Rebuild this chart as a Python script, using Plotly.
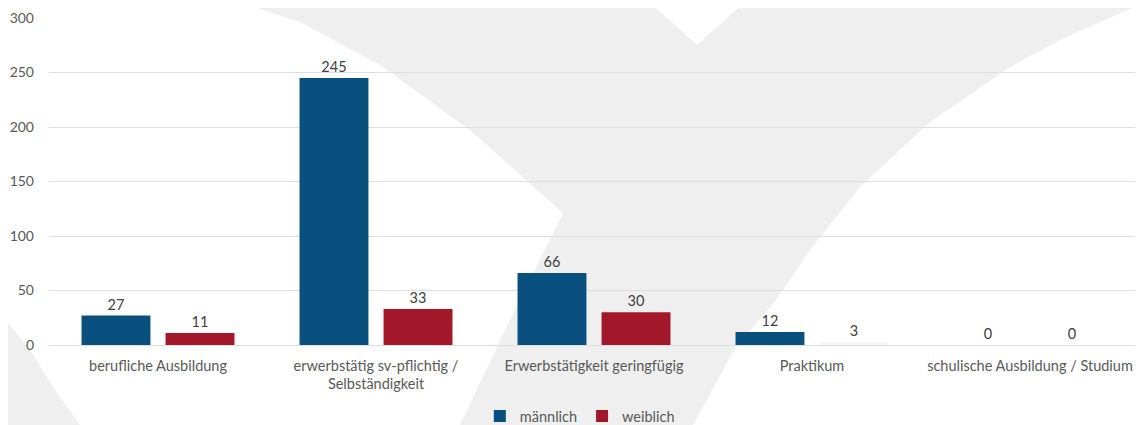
import plotly.graph_objects as go

categories = [
    "berufliche Ausbildung",
    "erwerbstätig sv-pflichtig /<br>Selbständigkeit",
    "Erwerbstätigkeit geringfügig",
    "Praktikum",
    "schulische Ausbildung / Studium",
]
maennlich = [27, 245, 66, 12, 0]
weiblich = [11, 33, 30, 3, 0]
y_ticks = [0, 50, 100, 150, 200, 250, 300]

# page body has an 8px margin, so the figure is drawn 8px smaller
OFF = 8
W, H = 1143 - OFF, 425 - OFF
ML, MR, MT, MB = 49 - OFF, 4, 18 - OFF, 80
PW, PH = W - ML - MR, H - MT - MB

def p(px, py):
    # px, py: pixel positions in the screenshot
    fx, fy = px - OFF, py - OFF
    return f"{(fx - ML) / PW:.5f},{(H - MB - fy) / PH:.5f}"

def path(points):
    return "M " + " L ".join(p(x, y) for x, y in points) + " Z"

wm1 = [(232, 0), (647, 0), (697, 45), (747, 0), (1143, 0), (1143, 3),
       (1060, 40), (1010, 67), (930, 122), (860, 187), (810, 250), (776, 300),
       (734, 350), (693, 425), (460, 425), (510, 320), (563, 213),
       (470, 130), (380, 65), (300, 22)]
wm2 = [(0, 313), (30, 350), (55, 390), (80, 425), (0, 425)]

blue = "#09507f"
red = "#a2182a"
red_colors = [red, red, red, "#f5f5f5", red]

font_family = "Lato, Carlito, Calibri, sans-serif"

fig = go.Figure()
fig.add_trace(go.Bar(
    name="männlich", x=categories, y=maennlich,
    marker=dict(color=blue, line=dict(width=0)),
    text=maennlich, textposition="outside",
    textfont=dict(color="#404040", size=14.5, family=font_family),
    cliponaxis=False,
))
fig.add_trace(go.Bar(
    name="weiblich", x=categories, y=weiblich,
    marker=dict(color=red_colors, line=dict(width=0)),
    text=weiblich, textposition="outside",
    textfont=dict(color="#404040", size=14.5, family=font_family),
    cliponaxis=False,
))

fig.update_layout(
    width=W, height=H,
    margin=dict(l=ML, r=MR, t=MT, b=MB, pad=0, autoexpand=False),
    paper_bgcolor="white",
    plot_bgcolor="rgba(0,0,0,0)",
    font=dict(family=font_family, size=14.5, color="#595959"),
    barmode="group",
    bargap=0.229,
    bargroupgap=0.18,
    showlegend=True,
    legend=dict(
        orientation="h", x=0.487, xanchor="center", y=-0.217, yanchor="middle",
        font=dict(size=14.5, color="#595959", family=font_family),
        itemwidth=30, traceorder="normal", bgcolor="rgba(0,0,0,0)",
    ),
    shapes=[
        dict(type="path", xref="paper", yref="paper", path=path(wm1),
             fillcolor="#efefef", line=dict(width=0), layer="below"),
        dict(type="path", xref="paper", yref="paper", path=path(wm2),
             fillcolor="#efefef", line=dict(width=0), layer="below"),
    ],
    xaxis=dict(
        showgrid=False, showline=False, ticks="", automargin=False,
        ticklabelstandoff=10,
        tickfont=dict(size=14.5, color="#595959", family=font_family),
    ),
    yaxis=dict(
        range=[0, 300], tickvals=y_ticks, automargin=False,
        showgrid=True, gridcolor="#dedede", gridwidth=1,
        zeroline=True, zerolinecolor="#dedede", zerolinewidth=1,
        showline=False, ticks="",
        ticklabelstandoff=14,
        tickfont=dict(size=14, color="#595959", family=font_family),
    ),
)

fig.write_html("out.html")
